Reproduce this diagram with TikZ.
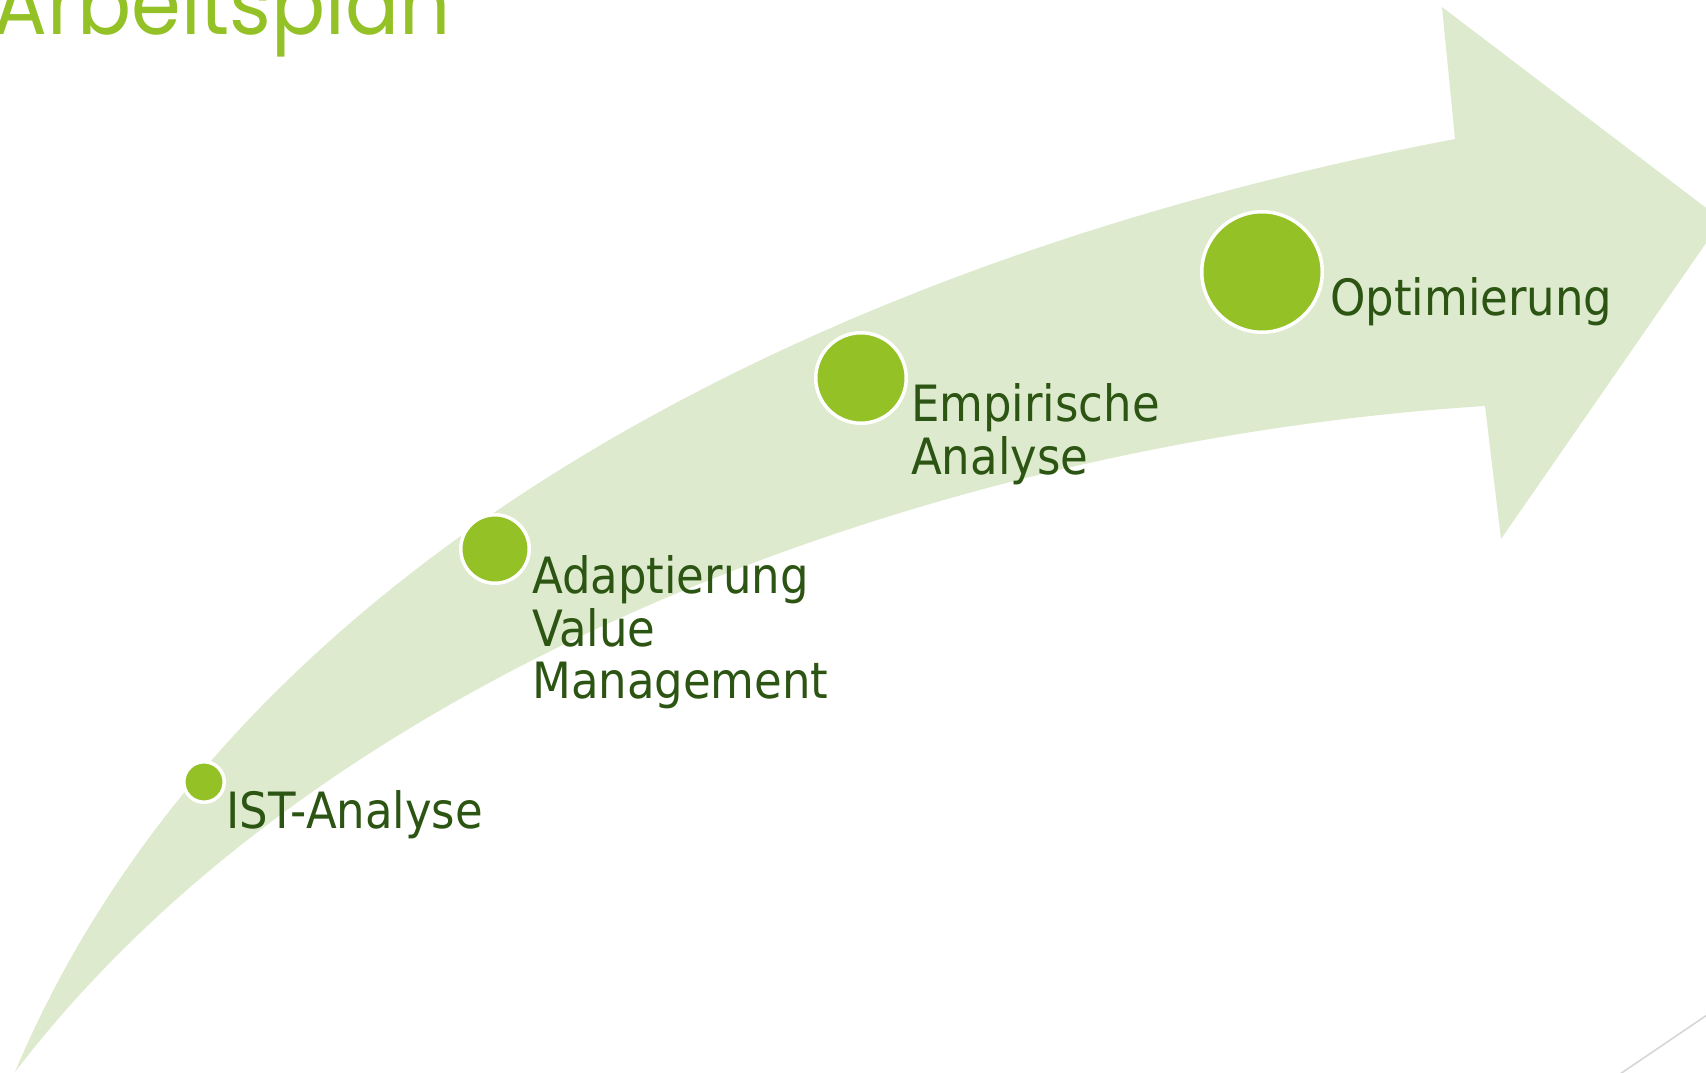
\documentclass[tikz,border=0pt]{standalone}
\usepackage{fontspec}
\setmainfont{DejaVu Sans Condensed}
\newfontfamily\titlefont{Poppins}[FakeStretch=0.92]
\definecolor{shaftgreen}{RGB}{221,234,206}
\definecolor{dotgreen}{RGB}{147,193,38}
\definecolor{labelgreen}{RGB}{44,84,18}
\definecolor{rulegray}{RGB}{214,214,214}
\tikzset{
  stepdot/.style={circle, fill=dotgreen, draw=white, line width=3.5pt,
    inner sep=0pt, outer sep=0pt},
  steplabel/.style={anchor=base west, inner sep=0pt, text=labelgreen,
    font=\fontsize{50}{51.5}\selectfont},
}
\newcommand{\stacklines}[1]{\begin{tabular}[t]{@{}l@{}}#1\end{tabular}}
\begin{document}
\begin{tikzpicture}[x=1pt,y=-1pt]
\useasboundingbox (0,0) rectangle (1706,1073);

% curved arrow in the background
\fill[shaftgreen]
  (15,1072) .. controls (230,560) and (820,260) .. (1455,139)
  -- (1442,7) -- (1722,220) -- (1501,539) -- (1485,406)
  .. controls (950,440) and (330,660) .. (15,1072) -- cycle;

% title
\node[anchor=base east, inner sep=0pt, text=dotgreen,
  font=\titlefont\fontsize{87}{90}\selectfont] (title) at (451,35) {Arbeitsplan};

% milestones
\node[stepdot, minimum size=40.5pt]  (d1) at (204,782) {};
\node[stepdot, minimum size=68.5pt]  (d2) at (495,549) {};
\node[stepdot, minimum size=90.5pt]  (d3) at (861,378) {};
\node[stepdot, minimum size=120.5pt] (d4) at (1262,272) {};

\node[steplabel] (l1) at (226,828) {IST-Analyse};
\node[steplabel] (l2) at (532,593) {\stacklines{Adaptierung\\Value\\Management}};
\node[steplabel] (l3) at (911,421) {\stacklines{Empirische\\Analyse}};
\node[steplabel] (l4) at (1330,315) {Optimierung};

% thin rule in the lower right corner
\coordinate (r1) at (1620,1074);
\coordinate (r2) at (1707,1015);
\draw[rulegray, line width=1.6pt] (r1) -- (r2);
\end{tikzpicture}
\end{document}
